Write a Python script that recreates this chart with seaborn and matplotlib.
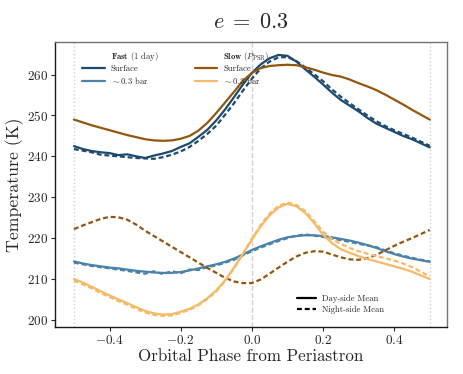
import numpy as np
import pandas as pd
import matplotlib
matplotlib.use("Agg")
import matplotlib.pyplot as plt
from matplotlib.lines import Line2D
import seaborn as sns

# Orbital phase from periastron
phase = [-0.5, -0.475, -0.45, -0.425, -0.4, -0.375, -0.35, -0.325, -0.3, -0.275,
         -0.25, -0.225, -0.2, -0.175, -0.15, -0.125, -0.1, -0.075, -0.05, -0.025,
         0.0, 0.025, 0.05, 0.075, 0.1, 0.125, 0.15, 0.175, 0.2, 0.225,
         0.25, 0.275, 0.3, 0.325, 0.35, 0.375, 0.4, 0.425, 0.45, 0.475, 0.5]

# Fast rotator (1 day)
fast_surf_day = [242.5, 241.8, 241.3, 241.0, 240.8, 240.3, 240.5, 240.0, 239.6, 240.2,
                 240.7, 241.3, 242.3, 243.2, 244.8, 246.5, 248.8, 251.5, 254.5, 257.6,
                 260.4, 262.5, 264.0, 264.8, 264.6, 263.2, 261.3, 259.5, 257.6, 255.6,
                 253.8, 252.4, 251.0, 249.4, 248.0, 247.0, 246.0, 245.0, 244.2, 243.2, 242.2]
fast_surf_night = [241.8, 241.4, 241.0, 240.4, 240.2, 240.0, 239.8, 239.6, 239.5, 239.4,
                   239.8, 240.4, 241.2, 242.3, 243.8, 245.5, 247.5, 250.2, 253.0, 256.1,
                   259.0, 261.5, 263.2, 264.2, 264.3, 263.3, 261.8, 260.1, 258.4, 256.4,
                   254.6, 253.0, 251.5, 250.0, 248.6, 247.4, 246.4, 245.5, 244.6, 243.6, 242.6]
fast_03_day = [214.3, 213.8, 213.4, 213.1, 212.8, 212.6, 212.3, 212.0, 211.8, 211.6,
               211.5, 211.5, 211.7, 212.1, 212.6, 213.1, 213.6, 214.2, 215.0, 216.0,
               217.1, 218.0, 218.8, 219.6, 220.2, 220.5, 220.7, 220.7, 220.5, 220.2,
               219.8, 219.4, 218.9, 218.3, 217.6, 216.8, 216.1, 215.5, 215.0, 214.6, 214.2]
fast_03_night = [214.0, 213.6, 213.2, 212.9, 212.6, 212.3, 212.0, 211.6, 211.3, 211.9,
                 211.2, 211.9, 211.4, 212.3, 212.2, 212.9, 213.3, 214.0, 214.7, 215.8,
                 216.8, 217.7, 218.5, 219.3, 220.0, 220.6, 220.9, 220.6, 220.3, 219.9,
                 219.5, 219.1, 218.6, 218.2, 217.8, 217.0, 216.3, 215.7, 215.2, 214.7, 214.3]

# Slow rotator (pseudo-synchronous)
slow_surf_day = [249.0, 248.3, 247.6, 247.0, 246.4, 245.8, 245.2, 244.7, 244.2, 243.9,
                 243.8, 243.9, 244.3, 245.0, 246.3, 248.2, 250.6, 253.2, 255.8, 258.5,
                 260.4, 261.6, 262.1, 262.3, 262.4, 262.3, 261.8, 261.2, 260.5, 259.9,
                 259.5, 258.8, 257.9, 257.1, 256.2, 255.1, 253.9, 252.7, 251.4, 250.2, 249.0]
slow_surf_night = [222.2, 223.1, 223.9, 224.7, 225.2, 225.1, 224.5, 223.3, 221.8, 220.5,
                   219.2, 217.9, 216.6, 215.3, 214.0, 212.7, 211.5, 210.3, 209.4, 209.0,
                   209.0, 209.9, 211.3, 212.8, 214.2, 215.5, 216.4, 216.8, 216.7, 216.0,
                   215.3, 214.8, 214.7, 215.1, 215.9, 217.0, 218.1, 219.1, 220.0, 221.0, 222.0]
slow_03_day = [210.0, 209.1, 208.1, 207.0, 206.0, 205.0, 204.1, 203.1, 202.2, 201.6,
               201.3, 201.4, 202.0, 202.7, 203.8, 205.3, 207.2, 209.7, 212.8, 216.2,
               219.6, 222.9, 225.6, 227.5, 228.4, 227.8, 226.2, 223.7, 220.8, 218.8,
               217.3, 216.4, 215.6, 214.9, 214.3, 213.7, 213.1, 212.5, 211.8, 210.9, 210.0]
slow_03_night = [209.6, 208.7, 207.7, 206.6, 205.6, 204.6, 203.7, 202.7, 201.8, 201.2,
                 201.0, 201.1, 201.7, 202.5, 203.6, 205.1, 207.0, 209.5, 212.6, 216.2,
                 219.8, 223.2, 226.0, 227.9, 228.7, 228.1, 226.6, 224.2, 221.6, 219.8,
                 218.6, 217.6, 216.8, 216.2, 215.6, 215.1, 214.5, 213.8, 212.9, 211.8, 210.6]

c_fast_surf = "#1d4b70"
c_fast_03 = "#4b82aa"
c_slow_surf = "#93560e"
c_slow_03 = "#f6b966"

sns.set_theme(style="white")
plt.rcParams["font.family"] = ["cmr10", "DejaVu Serif"]
plt.rcParams["mathtext.fontset"] = "cm"
plt.rcParams["axes.formatter.use_mathtext"] = True
plt.rcParams["axes.unicode_minus"] = True

fig = plt.figure(figsize=(4.63, 3.74), dpi=100)
ax = fig.add_axes([0.119, 0.125, 0.846, 0.763])

# reference lines at apastron / periastron
ax.axvline(-0.5, color="0.82", ls=":", lw=1.0, zorder=0)
ax.axvline(0.5, color="0.82", ls=":", lw=1.0, zorder=0)
ax.axvline(0.0, color="0.82", ls="--", lw=1.0, zorder=0)

dashes = (0, (2.2, 1.3))
series = [
    (fast_surf_day, c_fast_surf, "-"),
    (fast_surf_night, c_fast_surf, dashes),
    (fast_03_day, c_fast_03, "-"),
    (fast_03_night, c_fast_03, dashes),
    (slow_surf_day, c_slow_surf, "-"),
    (slow_surf_night, c_slow_surf, dashes),
    (slow_03_day, c_slow_03, "-"),
    (slow_03_night, c_slow_03, dashes),
]
for vals, col, ls in series:
    df = pd.DataFrame({"phase": phase, "T": vals})
    sns.lineplot(data=df, x="phase", y="T", ax=ax, color=col, lw=1.6,
                 linestyle=ls, legend=False)

ax.set_xlim(-0.553, 0.548)
ax.set_ylim(198.2, 268)
ax.set_xticks([-0.4, -0.2, 0.0, 0.2, 0.4])
ax.set_yticks([200, 210, 220, 230, 240, 250, 260])
ax.tick_params(axis="both", which="major", direction="out", length=3, width=0.8,
               labelsize=9.5, bottom=True, left=True, pad=2)
for s in ["top", "right"]:
    ax.spines[s].set_color("0.45")
for s in ["left", "bottom"]:
    ax.spines[s].set_color("0.1")
for s in ax.spines.values():
    s.set_linewidth(1.0)

ax.set_xlabel("Orbital Phase from Periastron", fontsize=12.2, labelpad=1)
ax.set_ylabel("Temperature (K)", fontsize=12.8, labelpad=2)
ax.set_title(r"$e\;=\;0.3$", fontsize=16, pad=10)

blank = Line2D([], [], color="none")
h1 = [blank,
      Line2D([], [], color=c_fast_surf, lw=1.6),
      Line2D([], [], color=c_fast_03, lw=1.6),
      blank,
      Line2D([], [], color=c_slow_surf, lw=1.6),
      Line2D([], [], color=c_slow_03, lw=1.6)]
l1 = [r"$\mathbf{Fast}$ (1 day)", "Surface", r"$\sim$0.3 bar",
      r"$\mathbf{Slow}$ ($P_{\rm PSR}$)", "Surface", r"$\sim$0.3 bar"]
leg1 = ax.legend(h1, l1, ncol=2, loc="upper left", bbox_to_anchor=(0.05, 1.0),
                 frameon=False, fontsize=6.2, handlelength=2.6, columnspacing=4.2,
                 labelspacing=0.22, handletextpad=0.7)
ax.add_artist(leg1)

h2 = [Line2D([], [], color="black", lw=1.6, ls="-"),
      Line2D([], [], color="black", lw=1.6, ls=dashes)]
ax.legend(h2, ["Day-side Mean", "Night-side Mean"], loc="lower right",
          bbox_to_anchor=(0.86, 0.02), frameon=False, fontsize=6.2,
          handlelength=2.2, labelspacing=0.3, handletextpad=0.7)

fig.savefig("out.png", dpi=100)
